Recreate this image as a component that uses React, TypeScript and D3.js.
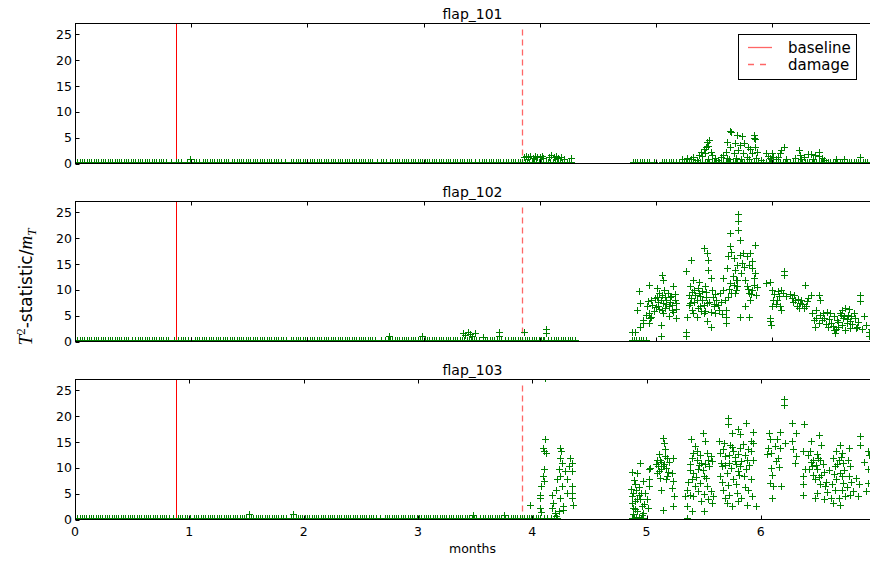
import React from 'react';
import * as d3 from 'd3';

type Pt = [number, number];

const panelTitles = ['flap_101', 'flap_102', 'flap_103'];
const xTicks = [0, 1, 2, 3, 4, 5, 6];
const yTicks = [0, 5, 10, 15, 20, 25];
const xMaxByPanel = [6.842, 6.842, 6.955];
const yMax = 27.1;
const baselineMonth = [0.871, 0.871, 0.884];
const damageMonth = [3.851, 3.851, 3.913];
const legendLabels = ['baseline', 'damage'];

// near-zero readings (month, in hundredths) — all sit at about the same tiny T² level
const nearZeroLevel = [0.25, 0.25, 0.25];
const flap101LowHundredths = [
  0,2,4,6,8,10,12,14,16,18,20,22,24,26,28,30,32,34,36,38,40,42,44,46,48,50,52,54,56,58,60,62,64,66,68,70,72,74,76,78,
  83,87,89,91,96,100,102,104,107,110,112,114,116,118,120,122,124,126,128,130,132,135,137,139,141,143,145,147,149,151,153,155,157,159,
  161,163,165,167,169,171,173,175,177,181,186,188,190,192,194,196,198,200,202,204,206,208,210,212,214,216,218,220,222,224,226,
  228,230,232,234,236,238,240,242,244,246,248,250,252,254,256,260,263,265,268,271,273,275,277,279,281,283,285,287,289,291,293,295,
  297,299,301,303,305,307,309,311,313,315,317,319,321,323,325,327,329,331,333,335,337,339,341,344,348,350,352,354,356,358,360,
  362,364,366,368,371,373,375,377,379,381,383,385,387,389,391,393,395,397,399,401,403,405,407,409,411,413,415,417,419,421,423,
  425,427,480,482,484,486,488,490,492,494,498,505,507,509,511,513,515,517,
  520,522,524,526,528,530,532,534,536,538,540,542,544,546,548,550,552,554,556,558,560,562,564,566,568,570,572,574,576,578,
  580,582,584,586,588,590,592,595,597,599,601,603,605,607,609,611,613,615,618,620,622,624,626,628,630,632,634,636,638,640,642,644,
  646,648,650,652,654,656,658,660,662,664,666,668,670,672,674,676,678,680,682
];
const flap102LowHundredths = [
  0,2,4,6,8,10,12,14,16,18,20,22,24,26,28,30,32,34,36,38,40,42,44,46,49,52,54,56,58,60,62,64,66,68,70,72,74,76,78,80,85,89,
  91,93,95,97,100,103,105,107,109,111,113,115,117,119,121,123,125,127,129,131,133,135,137,139,141,143,145,147,149,151,153,
  155,157,159,161,163,165,167,169,171,173,175,177,179,182,186,188,190,192,194,196,198,200,202,204,206,208,210,212,214,216,218,
  220,222,224,226,228,230,232,234,236,238,240,242,244,246,248,250,252,254,256,258,263,267,269,271,273,275,277,279,281,283,285,
  287,289,291,293,295,297,299,301,303,305,307,309,311,313,315,317,319,321,323,325,327,329,331,333,335,337,339,341,343,345,
  348,351,353,355,357,359,361,363,365,367,370,373,375,377,379,381,383,385,387,389,391,393,395,397,399,401,403,404,407,410,412,414,416,
  418,420,422,424,426,428,430,479,481,483,485,487,489,491
];
const flap103LowHundredths = [
  0,2,4,6,8,10,12,14,16,18,20,22,24,26,28,30,32,34,36,38,40,42,44,46,48,50,52,54,56,58,60,62,64,66,68,70,72,74,76,78,
  80,82,86,90,92,94,96,98,101,104,106,108,110,112,114,116,118,120,122,124,126,128,130,132,134,136,138,140,142,144,146,148,150,
  152,154,156,158,160,162,164,166,168,170,172,174,176,178,180,182,185,189,191,193,195,197,199,201,203,205,207,209,211,213,215,
  217,219,221,223,225,227,229,231,233,235,237,239,241,243,245,247,249,251,253,255,257,259,261,263,267,271,273,275,277,279,281,
  283,285,287,289,291,293,295,297,299,301,303,305,307,309,311,313,315,317,319,321,323,325,327,329,331,333,335,337,339,341,
  343,345,347,349,351,354,357,359,361,363,365,367,369,371,373,376,379,381,383,385,387,389,391,393,395,397,399,401,403,405,407,410,
  413,416,419,422,487,489,491,493,495,497,535
];

// ---------- flap_101 ----------
const flap101High: Pt[] = [
  [0.99,.8],
  [3.86,1.3],[3.88,1.5],[3.90,1.2],[3.92,1.4],[3.94,1.1],[3.96,1.5],[3.98,1.3],[4.00,1.2],[4.02,1.4],[4.03,1.0],
  [4.08,1.3],[4.10,1.6],[4.12,1.2],[4.14,1.5],[4.16,1.1],[4.18,1.3],[4.21,0.9],[4.27,1.0],
  [5.27,1.0],[5.32,1.3],[5.35,0.7],[5.37,1.6],[5.39,2.3],[5.41,2.9],[5.42,2.0],[5.44,4.2],[5.45,3.4],
  [5.47,2.3],[5.48,1.6],[5.51,1.0],[5.43,3.2],[5.40,1.4],[5.46,4.5],
  [5.58,1.6],[5.60,2.3],[5.61,4.2],[5.61,1.0],[5.64,3.2],[5.65,6.1],[5.64,6.3],[5.67,2.0],[5.68,3.9],
  [5.70,5.5],[5.71,2.6],[5.72,3.6],[5.74,5.3],[5.75,2.0],[5.76,3.9],[5.78,1.3],[5.79,3.2],[5.81,2.9],
  [5.83,2.0],[5.84,5.5],[5.84,4.9],[5.85,3.2],[5.87,2.3],[5.85,4.7],
  [5.95,2.1],[5.98,1.0],[6.00,2.1],[6.01,1.3],[6.05,1.2],[6.07,2.0],[6.08,2.6],[6.10,3.2],
  [6.20,1.0],[6.23,2.6],[6.24,1.6],[6.27,1.3],[6.31,1.8],[6.33,1.8],[6.40,2.3],[6.40,1.4],[6.43,1.0],
  [6.76,1.2],
  [5.22,0.8],[5.30,0.9],[5.45,0.9],[5.53,0.7],[5.56,1.2],[5.63,0.8],[5.69,1.1],[5.73,0.9],[5.80,0.8],
  [5.86,1.1],[5.90,0.7],[5.96,1.5],[6.03,0.9],[6.12,0.8],[6.25,0.9],[6.35,0.8],[6.37,1.6],[6.45,0.7],
  [6.55,0.8],[6.62,0.9]
];

// ---------- flap_102 ----------
const flap102High: Pt[] = [
  [2.70,1.1],[2.99,1.1],[3.34,1.6],[3.36,1.2],[3.38,1.8],[3.40,1.4],[3.42,1.1],[3.44,1.6],[3.51,0.95],
  [3.65,1.1],[3.65,1.8],[3.86,1.9],[4.05,1.6],[4.05,2.5],
  [4.79,1.8],[4.82,1.8],[4.86,2.9],[4.89,4.1],[4.89,3.6],[4.84,6.1],[4.86,7.4],[4.85,9.7],[4.92,6.8],
  [4.94,5.5],[4.95,4.5],[4.94,3.6],[4.94,11.0],[4.96,8.1],[5.01,10.3],[5.01,8.7],[5.03,9.4],[5.04,8.1],
  [5.05,12.9],[5.06,12.0],[5.02,6.8],[5.05,6.1],[5.06,7.4],[5.08,8.7],[5.04,3.2],[5.04,1.0],[5.09,8.1],
  [5.11,6.8],[5.12,8.7],[5.14,6.1],[5.15,10.7],[5.16,8.1],[5.17,4.5],[5.17,7.4],
  [5.26,13.6],[5.30,15.8],[5.26,1.9],[5.26,1.0],[5.27,4.8],[5.28,9.0],[5.29,10.7],[5.29,7.4],[5.31,6.1],
  [5.32,12.0],[5.33,10.0],[5.35,8.1],[5.35,4.8],[5.37,11.6],[5.37,9.4],[5.38,6.8],[5.40,8.1],
  [5.41,18.1],[5.44,17.1],[5.45,15.8],[5.45,13.9],[5.47,12.3],[5.42,10.7],[5.43,8.7],[5.44,7.4],
  [5.41,5.5],[5.44,3.9],[5.47,2.9],[5.48,10.0],[5.50,6.8],[5.51,5.5],[5.52,8.1],[5.54,6.1],[5.55,9.4],
  [5.58,10.0],[5.59,8.1],[5.60,6.1],[5.60,4.8],[5.60,3.6],[5.58,12.3],[5.61,14.2],[5.62,16.5],
  [5.64,21.0],[5.64,18.4],[5.65,17.4],[5.67,16.2],[5.68,13.9],[5.69,12.0],[5.70,10.7],[5.68,9.4],
  [5.71,23.4],[5.71,24.7],[5.71,21.6],[5.72,19.7],[5.72,16.8],[5.70,14.9],[5.72,4.8],[5.80,4.8],
  [5.75,17.1],[5.78,16.5],[5.80,14.9],[5.81,17.1],[5.83,15.5],[5.85,18.7],[5.83,14.2],[5.84,12.3],
  [5.78,10.7],[5.80,9.4],[5.81,8.1],[5.83,10.0],[5.86,9.0],[5.77,6.8],
  [5.95,11.3],[5.98,11.6],[6.00,10.0],[6.01,8.1],[6.00,6.8],[5.98,4.5],[5.99,3.2],[5.98,3.9],
  [6.04,8.1],[6.05,9.7],[6.07,6.8],[6.08,10.0],[6.10,13.6],[6.10,12.9],[6.08,6.1],
  [6.17,8.4],[6.20,8.1],[6.21,6.8],[6.24,7.4],[6.27,6.5],[6.28,11.0],[6.30,7.8],[6.33,9.0],[6.34,5.5],
  [6.36,4.2],[6.37,2.9],[6.38,6.1],[6.40,9.0],[6.41,8.1],[6.41,5.2],[6.43,4.2],[6.44,5.5],[6.38,4.5],
  [6.40,3.6],[6.50,5.5],[6.51,3.6],[6.53,2.3],[6.54,1.6],[6.56,4.2],[6.57,2.9],[6.59,5.2],[6.60,6.1],
  [6.61,4.5],[6.63,6.5],[6.64,3.6],[6.65,5.2],[6.67,2.6],[6.70,5.5],[6.73,2.9],[6.76,9.0],[6.76,7.8],
  [6.81,3.2],[6.83,1.9],[6.83,1.0],
  [5.02,7.6],[5.03,6.3],[5.05,9.0],[5.06,5.5],[5.07,9.9],[5.08,6.5],[5.09,7.2],[5.10,9.4],[5.11,5.0],
  [5.12,7.7],[5.13,8.9],[5.14,7.0],[5.15,5.7],[5.16,9.2],[5.17,6.2],[4.97,7.1],[4.98,5.9],[4.99,8.5],
  [5.00,6.6],[4.96,4.8],[4.93,7.8],[4.91,5.1],
  [5.28,7.0],[5.30,8.4],[5.31,9.6],[5.32,5.5],[5.33,7.6],[5.34,9.0],[5.36,6.4],[5.36,10.4],[5.38,8.8],
  [5.39,5.9],[5.40,9.8],[5.41,7.1],[5.42,6.0],[5.43,9.6],[5.46,7.6],[5.47,5.8],[5.49,8.7],[5.50,7.3],
  [5.51,9.1],[5.53,7.0],[5.56,7.7],[5.57,5.3],
  [5.62,8.6],[5.63,10.2],[5.64,11.4],[5.65,9.3],[5.66,12.6],[5.67,11.0],[5.69,9.9],[5.70,11.9],[5.73,13.2],
  [5.74,15.1],[5.76,14.4],[5.77,11.9],[5.79,10.2],[5.82,9.2],[5.84,11.0],[5.85,13.3],[5.87,10.6],
  [6.02,9.2],[6.03,7.3],[6.06,8.8],[6.09,9.3],[6.12,8.9],[6.15,9.2],[6.18,7.6],[6.19,9.0],[6.22,8.3],
  [6.23,6.5],[6.25,8.0],[6.26,7.2],[6.29,6.8],[6.31,8.5],
  [6.45,4.6],[6.46,3.3],[6.47,5.8],[6.48,2.8],[6.49,4.3],[6.52,3.0],[6.53,4.9],[6.55,2.4],[6.57,3.8],
  [6.58,5.6],[6.60,3.1],[6.62,5.0],[6.63,2.2],[6.64,4.4],[6.66,6.3],[6.67,3.9],[6.68,5.0],[6.69,3.3],
  [6.71,4.6],[6.72,2.7],[6.74,3.7],[6.77,2.4],[6.79,5.0],[6.85,2.5],[6.86,1.3]
];

// ---------- flap_103 ----------
const flap103High: Pt[] = [
  [1.52,1.1],[1.91,1.1],[3.48,0.8],[3.75,0.8],[3.98,2.9],
  [4.11,27.3],[4.11,15.5],[4.09,13.9],[4.10,13.2],[4.12,12.8],[4.10,9.7],[4.09,8.4],[4.10,7.4],[4.08,6.5],
  [4.07,4.8],[4.07,4.2],[4.07,2.3],[4.08,1.4],[4.17,4.8],[4.18,3.2],[4.17,2.3],[4.20,1.3],[4.21,0.6],
  [4.21,5.8],[4.22,7.8],[4.23,9.7],[4.24,13.9],[4.25,13.2],[4.24,12.0],[4.26,11.0],[4.24,8.4],[4.26,6.5],
  [4.24,4.2],[4.27,2.6],[4.29,9.4],[4.30,7.8],[4.30,5.2],[4.32,10.3],[4.33,12.0],[4.35,11.0],[4.35,9.4],
  [4.35,6.5],[4.35,5.2],[4.35,4.2],[4.36,2.9],[4.27,1.9],[4.23,1.6],
  [4.94,11.0],[4.87,9.2],[4.92,9.0],[4.90,6.8],[4.91,5.8],[4.88,5.2],[4.93,4.8],[4.87,3.2],[4.90,3.5],
  [4.94,3.9],[4.88,2.3],[4.92,1.6],[4.96,2.6],[4.97,1.3],[4.88,1.0],[4.91,0.5],[5.00,3.9],[5.01,2.3],
  [4.99,5.2],[5.02,9.7],[5.02,7.8],[5.02,6.5],[5.03,10.0],
  [5.14,15.8],[5.15,14.9],[5.16,13.6],[5.09,11.6],[5.12,11.6],[5.18,12.0],[5.23,12.0],[5.10,10.3],
  [5.13,9.7],[5.15,10.7],[5.09,9.0],[5.12,8.1],[5.18,8.4],[5.22,9.0],[5.23,7.4],[5.13,5.8],[5.22,6.1],
  [5.24,4.5],[5.14,1.9],[5.23,2.6],
  [5.39,15.5],[5.49,16.8],[5.51,15.2],[5.42,14.2],[5.41,12.9],[5.38,10.7],[5.44,11.6],[5.48,11.0],
  [5.53,12.9],[5.54,11.6],[5.57,11.3],[5.41,9.0],[5.45,9.7],[5.50,8.4],[5.40,7.8],[5.35,5.8],[5.38,4.8],
  [5.34,4.5],[5.42,6.5],[5.47,7.1],[5.53,6.5],[5.56,5.5],[5.58,4.5],[5.57,3.2],[5.48,3.5],[5.41,4.5],
  [5.35,2.7],[5.40,1.6],[5.50,1.6],[5.35,0.1],
  [5.71,19.7],[5.71,18.4],[5.75,16.8],[5.80,17.6],[5.87,18.6],[5.82,16.5],[5.93,16.9],[5.63,15.2],
  [5.68,14.9],[5.73,14.5],[5.91,15.2],[5.93,14.9],[5.64,12.9],[5.69,12.3],[5.76,13.2],[5.82,13.9],
  [5.91,13.2],[5.66,10.3],[5.72,11.0],[5.77,11.3],[5.82,10.3],[5.88,11.6],[5.93,11.6],[5.64,8.4],
  [5.70,9.0],[5.76,7.8],[5.80,9.4],[5.85,8.4],[5.91,7.8],[5.67,5.8],[5.72,4.8],[5.79,5.2],[5.83,4.2],
  [5.89,5.8],[5.92,4.5],[5.69,4.2],[5.70,3.2],[5.75,2.6],[5.80,3.5],[5.88,2.9],[5.96,2.7],
  [6.20,23.3],[6.20,22.1],[6.07,16.8],[6.08,15.6],[6.17,16.9],[6.14,15.5],[6.05,12.6],[6.17,13.9],
  [6.15,12.0],[6.21,14.9],[6.09,10.0],[6.10,8.7],[6.08,7.1],[6.11,6.5],[6.10,4.2],[6.18,6.5],
  [6.27,18.7],[6.38,18.4],[6.31,16.8],[6.27,15.2],[6.28,13.6],[6.31,12.3],[6.37,13.2],[6.30,11.0],
  [6.39,9.7],[6.37,8.4],[6.37,6.8],[6.37,4.8],
  [6.51,16.3],[6.44,15.2],[6.53,14.5],[6.43,13.2],[6.49,12.6],[6.46,11.6],[6.52,11.6],[6.45,10.3],
  [6.49,9.7],[6.53,8.7],[6.47,7.8],[6.52,6.8],[6.56,6.5],[6.49,5.2],[6.47,4.2],[6.55,3.9],[6.61,4.2],
  [6.63,3.2],[6.63,12.0],[6.65,10.3],[6.69,14.5],[6.71,12.9],[6.68,11.6],[6.72,11.0],[6.69,9.0],
  [6.66,7.8],[6.72,7.1],[6.65,5.8],[6.71,5.8],[6.68,4.2],[6.74,4.5],[6.78,4.8],[6.69,2.9],[6.77,8.4],
  [6.78,10.3],[6.77,13.9],[6.85,4.5],[6.87,16.1],[6.87,14.5],[6.94,13.2],[6.94,9.7],[6.94,7.1],[6.86,6.8],
  [4.86,6.0],[4.87,4.5],[4.89,7.6],[4.90,2.0],[4.92,4.0],[4.93,6.2],[4.95,5.2],[4.97,7.4],[4.98,3.0],
  [4.89,0.3],[4.93,0.4],[4.96,0.9],
  [5.08,10.8],[5.11,12.7],[5.13,11.2],[5.16,12.3],[5.17,10.0],[5.19,9.2],[5.20,11.1],[5.11,9.3],[5.14,10.3],[5.17,7.9],
  [5.36,7.2],[5.38,9.6],[5.40,11.9],[5.43,8.2],[5.44,13.2],[5.46,10.5],[5.47,12.4],[5.49,9.5],[5.51,10.8],
  [5.52,8.0],[5.55,10.3],[5.56,12.2],[5.45,5.6],[5.50,5.0],[5.54,3.9],
  [5.65,11.0],[5.67,13.6],[5.69,10.6],[5.72,12.4],[5.74,9.9],[5.75,14.0],[5.77,12.1],[5.78,10.8],[5.80,12.7],
  [5.81,8.6],[5.83,11.3],[5.84,14.6],[5.86,12.4],[5.87,9.8],[5.89,13.7],[5.90,10.5],[5.66,7.3],[5.71,6.6],
  [5.78,6.9],[5.86,6.3],
  [6.06,13.8],[6.09,12.8],[6.12,14.2],[6.13,11.3],[6.16,10.2],
  [6.41,12.4],[6.42,9.8],[6.44,11.1],[6.46,8.7],[6.48,10.6],[6.50,11.9],[6.51,8.2],[6.54,10.8],[6.55,9.1],
  [6.57,7.2],[6.58,5.4],[6.60,9.5],[6.62,6.9],[6.64,8.9],[6.66,13.2],[6.67,10.7],[6.70,12.1],[6.71,8.4],
  [6.73,9.5],[6.75,6.3],[6.76,11.6],[6.79,7.3],[6.81,5.6],[6.83,8.0],[6.90,11.2],[6.92,5.5],[6.95,12.4]
];

const lowHundredths = [flap101LowHundredths, flap102LowHundredths, flap103LowHundredths];
const highPoints = [flap101High, flap102High, flap103High];
const panelSeries: Pt[][] = [0, 1, 2].map(i => [
  ...lowHundredths[i].map(h => [h / 100, nearZeroLevel[i]] as Pt),
  ...highPoints[i]
]);

const W = 870;
const H = 561;
const LEFT = 75;
const RIGHT = 870;
const PANEL_TOPS = [23.5, 201.5, 379.5];
const PANEL_H = 140;
const FONT = "'DejaVu Sans', sans-serif";
const MARK = 'M-3.5,0H3.5M0,-3.5V3.5';

export default function App() {
  return (
    <svg width={W} height={H} style={{ position: 'absolute', left: 0, top: 0, background: '#fff' }}
      xmlns="http://www.w3.org/2000/svg">
      <rect x={0} y={0} width={W} height={H} fill="#fff" />
      {panelTitles.map((title, i) => {
        const top = PANEL_TOPS[i];
        const bottom = top + PANEL_H;
        const x = d3.scaleLinear().domain([0, xMaxByPanel[i]]).range([LEFT, RIGHT]);
        const y = d3.scaleLinear().domain([0, yMax]).range([bottom, top]);
        const clipId = `clip${i}`;
        const pts = panelSeries[i];
        return (
          <g key={title}>
            <defs>
              <clipPath id={clipId}>
                <rect x={LEFT} y={top} width={RIGHT - LEFT} height={PANEL_H} />
              </clipPath>
            </defs>
            <g clipPath={`url(#${clipId})`}>
              <line x1={Math.round(x(baselineMonth[i])) + 0.5} x2={Math.round(x(baselineMonth[i])) + 0.5}
                y1={top} y2={bottom} stroke="#ff0000" strokeWidth={1} />
              <line x1={Math.round(x(damageMonth[i])) + 0.5} x2={Math.round(x(damageMonth[i])) + 0.5}
                y1={top + 6} y2={bottom} stroke="#ff0000" strokeOpacity={0.6} strokeWidth={1.3}
                strokeDasharray="6,4" />
              <g stroke="#008000" strokeWidth={1} fill="none">
                {pts.map((p, k) => (
                  <path key={k} d={MARK}
                    transform={`translate(${Math.round(x(p[0])) + 0.5},${Math.round(y(p[1])) + 0.5})`} />
                ))}
              </g>
            </g>
            <rect x={LEFT + 0.5} y={top} width={RIGHT - LEFT + 2} height={PANEL_H} fill="none" stroke="#000" strokeWidth={1} />
            {xTicks.map(t => (
              <g key={`xt${t}`}>
                <line x1={Math.round(x(t)) + 0.5} x2={Math.round(x(t)) + 0.5} y1={bottom} y2={bottom - 4} stroke="#000" />
                <line x1={Math.round(x(t)) + 0.5} x2={Math.round(x(t)) + 0.5} y1={top} y2={top + 4} stroke="#000" />
                {i === 2 && (
                  <text x={x(t)} y={bottom + 16} fontSize={12.5} fontFamily={FONT} textAnchor="middle" fill="#000">{t}</text>
                )}
              </g>
            ))}
            {yTicks.map(t => (
              <g key={`yt${t}`}>
                <line x1={LEFT + 0.5} x2={LEFT + 4.5} y1={Math.round(y(t)) + 0.5} y2={Math.round(y(t)) + 0.5} stroke="#000" />
                <text x={LEFT - 3} y={y(t) + 4.5} fontSize={12.5} fontFamily={FONT} textAnchor="end" fill="#000">{t}</text>
              </g>
            ))}
            <text x={(LEFT + RIGHT) / 2} y={top - 4.5} fontSize={14} fontFamily={FONT} textAnchor="middle" fill="#000">{title}</text>
          </g>
        );
      })}
      <text x={(LEFT + RIGHT) / 2} y={553} fontSize={12.5} fontFamily={FONT} textAnchor="middle" fill="#000">months</text>
      <text transform="translate(32,287) rotate(-90)" fontSize={17} fontFamily={FONT} textAnchor="middle" fill="#000">
        <tspan fontFamily="'Liberation Serif', serif" fontStyle="italic" fontSize={19}>T</tspan>
        <tspan fontFamily="'Liberation Serif', serif" fontSize={13} dy={-7}>2</tspan>
        <tspan dy={7}>-statistic/</tspan>
        <tspan fontFamily="'Liberation Serif', serif" fontStyle="italic" fontSize={19}>m</tspan>
        <tspan fontFamily="'Liberation Serif', serif" fontStyle="italic" fontSize={13} dy={4}>T</tspan>
      </text>
      <g>
        <rect x={738.5} y={34.5} width={118} height={45} fill="#fff" stroke="#000" strokeWidth={1} />
        <line x1={748} x2={772} y1={47.5} y2={47.5} stroke="#ff0000" strokeOpacity={0.6} strokeWidth={1.3} />
        <line x1={748} x2={772} y1={64.5} y2={64.5} stroke="#ff0000" strokeOpacity={0.6} strokeWidth={1.3} strokeDasharray="6,6" />
        <text x={788} y={53} fontSize={15} fontFamily={FONT} fill="#000">{legendLabels[0]}</text>
        <text x={788} y={69.5} fontSize={15} fontFamily={FONT} fill="#000">{legendLabels[1]}</text>
      </g>
    </svg>
  );
}
